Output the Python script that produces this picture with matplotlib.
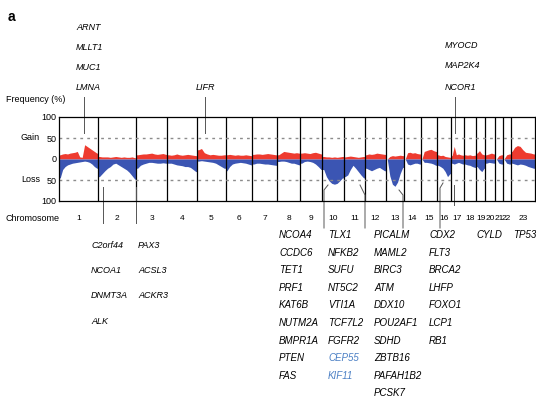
import matplotlib.pyplot as plt
import matplotlib.transforms as mtransforms
import numpy as np

# chromosome lengths (Mb, hg19), X shown as 23
chrom_names = [str(i) for i in range(1, 24)]
chrom_len = [249, 243, 198, 191, 181, 171, 159, 146, 141, 136, 135, 134,
             115, 107, 103, 90, 81, 78, 59, 63, 48, 51, 155]

# frequency (%) read along each chromosome, evenly spaced samples
gain = [
    [10, 12, 13, 12, 14, 15, 16, 18, 5, 4, 34, 30, 26, 22, 18, 14],
    [6, 5, 5, 5, 4, 5, 6, 5, 4, 5, 4, 4, 5, 3],
    [10, 11, 12, 12, 13, 14, 12, 11, 12, 13, 11],
    [10, 9, 10, 12, 10, 9, 10, 11, 10, 9, 8],
    [22, 25, 15, 12, 10, 11, 10, 9, 9, 10],
    [10, 11, 10, 9, 10, 9, 9, 10, 9, 8],
    [11, 12, 12, 11, 12, 13, 12, 11, 10],
    [10, 14, 18, 17, 16, 15, 14, 15, 14],
    [14, 15, 14, 13, 15, 16, 14, 12],
    [6, 5, 5, 4, 5, 4, 5, 6],
    [5, 6, 7, 6, 5, 4, 5, 6],
    [10, 12, 11, 12, 14, 13, 12, 11],
    [0, 6, 8, 7, 8, 9, 8],
    [0, 15, 16, 14, 15, 13, 12],
    [0, 18, 20, 22, 23, 20, 18],
    [10, 8, 9, 6, 5, 4],
    [8, 30, 10, 12, 10, 9],
    [10, 9, 10, 8, 9],
    [14, 20, 12, 10],
    [10, 12, 14, 12],
    [0, 8, 10],
    [0, 10, 12],
    [18, 28, 32, 30, 22, 16, 15, 14, 12],
]
loss = [
    [45, 25, 18, 14, 12, 10, 9, 8, 7, 6, 5, 6, 8, 12, 18, 22],
    [42, 35, 28, 22, 18, 12, 10, 14, 18, 22, 26, 32, 40, 48],
    [22, 15, 12, 10, 8, 8, 9, 10, 10, 9, 10],
    [10, 10, 12, 14, 15, 16, 18, 18, 20, 25, 30],
    [5, 4, 5, 6, 7, 8, 10, 14, 18, 22],
    [28, 18, 12, 10, 9, 8, 9, 10, 12, 14],
    [12, 10, 10, 11, 12, 12, 13, 14, 15],
    [6, 5, 5, 6, 8, 10, 10, 12, 14],
    [10, 6, 5, 6, 8, 12, 18, 25],
    [25, 42, 52, 58, 60, 58, 52, 45],
    [42, 38, 25, 15, 22, 30, 38, 45],
    [22, 25, 28, 25, 22, 20, 24, 28],
    [0, 40, 60, 65, 55, 35, 20],
    [0, 12, 14, 12, 10, 10, 12],
    [0, 8, 8, 9, 10, 12, 15],
    [15, 18, 22, 30, 42, 35],
    [10, 12, 10, 8, 10, 12],
    [12, 14, 15, 18, 20],
    [18, 25, 30, 22],
    [10, 8, 9, 10],
    [0, 10, 12],
    [0, 10, 12],
    [10, 12, 14, 12, 13, 15, 18, 20, 22],
]

top_genes = [["ARNT", "MLLT1", "MUC1", "LMNA"], ["LIFR"], ["MYOCD", "MAP2K4", "NCOR1"]]
bottom_genes = [
    ["C2orf44", "NCOA1", "DNMT3A", "ALK"],
    ["PAX3", "ACSL3", "ACKR3"],
    ["NCOA4", "CCDC6", "TET1", "PRF1", "KAT6B", "NUTM2A", "BMPR1A", "PTEN", "FAS"],
    ["TLX1", "NFKB2", "SUFU", "NT5C2", "VTI1A", "TCF7L2", "FGFR2", "CEP55", "KIF11"],
    ["PICALM", "MAML2", "BIRC3", "ATM", "DDX10", "POU2AF1", "SDHD", "ZBTB16",
     "PAFAH1B2", "PCSK7"],
    ["CDX2", "FLT3", "BRCA2", "LHFP", "FOXO1", "LCP1", "RB1"],
    ["CYLD"],
    ["TP53"],
]
blue_genes = ["CEP55", "KIF11"]

W, H = 536, 400
red = "#ee3b2f"
blue = "#3b55b3"
font = ["Liberation Sans", "DejaVu Sans"]
small = 6.5  # the condensed labels of the original, shrunk toward their width

fig = plt.figure(figsize=(W / 100, H / 100), dpi=100)
ax = fig.add_axes([59 / W, 1 - 201 / H, 476 / W, 84 / H])

starts = np.concatenate([[0], np.cumsum(chrom_len)[:-1]])
total = sum(chrom_len)

for s, L, g, l in zip(starts, chrom_len, gain, loss):
    n = len(g)
    xs = s + L * (np.arange(n) + 0.5) / n
    xs = np.concatenate([[s], xs, [s + L]])
    gg = np.concatenate([[g[0]], g, [g[-1]]])
    ll = np.concatenate([[l[0]], l, [l[-1]]])
    ax.fill_between(xs, 0, gg, color=red, lw=0)
    ax.fill_between(xs, 0, -ll, color=blue, lw=0)

for s in starts[1:]:
    ax.axvline(s, color="black", lw=0.9)
for yv in (50, -50):
    ax.axhline(yv, color="#8c8c8c", lw=1, ls=(0, (2, 3)))

ax.set_xlim(0, total)
ax.set_ylim(-100, 100)
ax.set_xticks([])
ax.set_yticks([100, 50, 0, -50, -100])
ax.set_yticklabels(["100", "50", "0", "50", "100"], fontsize=small, family=font)
ax.tick_params(axis="y", length=0, pad=2)
for sp in ax.spines.values():
    sp.set_color("black")
    sp.set_linewidth(0.9)

bt = mtransforms.blended_transform_factory(ax.transData, fig.transFigure)

def fy(py):
    return 1 - py / H

# chromosome numbers
for s, L, name in zip(starts, chrom_len, chrom_names):
    ax.text(s + L / 2, fy(218), name, transform=bt, ha="center", va="center",
            fontsize=6, family=font)

# left labels
fig.text(6 / W, fy(99), "Frequency (%)", ha="left", va="center", fontsize=small, family=font)
fig.text(40 / W, fy(137), "Gain", ha="right", va="center", fontsize=small, family=font)
fig.text(40 / W, fy(180), "Loss", ha="right", va="center", fontsize=small, family=font)
fig.text(6 / W, fy(218), "Chromosome", ha="left", va="center", fontsize=small, family=font)
fig.text(8 / W, fy(17), "a", ha="left", va="center", fontsize=10, weight="bold", family=font)

# top leader lines and labels
line_kw = dict(color="#555555", lw=0.7, transform=bt, clip_on=False)
for px in (84, 205, 455):
    x = (px - 59) / 476 * total
    ax.plot([x, x], [fy(97), fy(133)], **line_kw)

for i, gname in enumerate(top_genes[0]):
    fig.text(76 / W, fy(27 + i * 20), gname, ha="left", va="center", fontsize=small,
             style="italic", family=font)
fig.text(205 / W, fy(87), top_genes[1][0], ha="center", va="center", fontsize=small,
         style="italic", family=font)
for i, gname in enumerate(top_genes[2]):
    fig.text(445 / W, fy(45 + i * 21), gname, ha="left", va="center", fontsize=small,
             style="italic", family=font)

# bottom leader lines (pixel polylines)
bottom_lines = [
    [(103, 187), (103, 223)],
    [(136, 187), (136, 223)],
    [(328, 185), (324, 190), (324, 228)],
    [(360, 185), (365, 195), (365, 228)],
    [(399, 190), (403, 195), (403, 228)],
    [(443, 183), (440, 188), (440, 228)],
    [(454, 185), (454, 205)],
]
for pts in bottom_lines:
    xs = [(p[0] - 59) / 476 * total for p in pts]
    ys = [fy(p[1]) for p in pts]
    ax.plot(xs, ys, **line_kw)

# bottom gene columns: (x px, first y px, spacing, condensed?)
cols = [(91, 245, 25.5, True), (138, 245, 25.5, True), (279, 235, 17.6, False),
        (328, 235, 17.6, False), (374, 235, 17.6, False), (429, 235, 17.6, False),
        (476, 235, 17.6, False), (513, 235, 17.6, False)]
for (px, py, dy, cond), genes in zip(cols, bottom_genes):
    for i, gname in enumerate(genes):
        c = "#4a7fc4" if gname in blue_genes else "black"
        fig.text(px / W, fy(py + i * dy), gname, ha="left", va="center",
                 fontsize=small if cond else 7, style="italic",
                 family=font, color=c)

fig.savefig("out.png", dpi=100)
